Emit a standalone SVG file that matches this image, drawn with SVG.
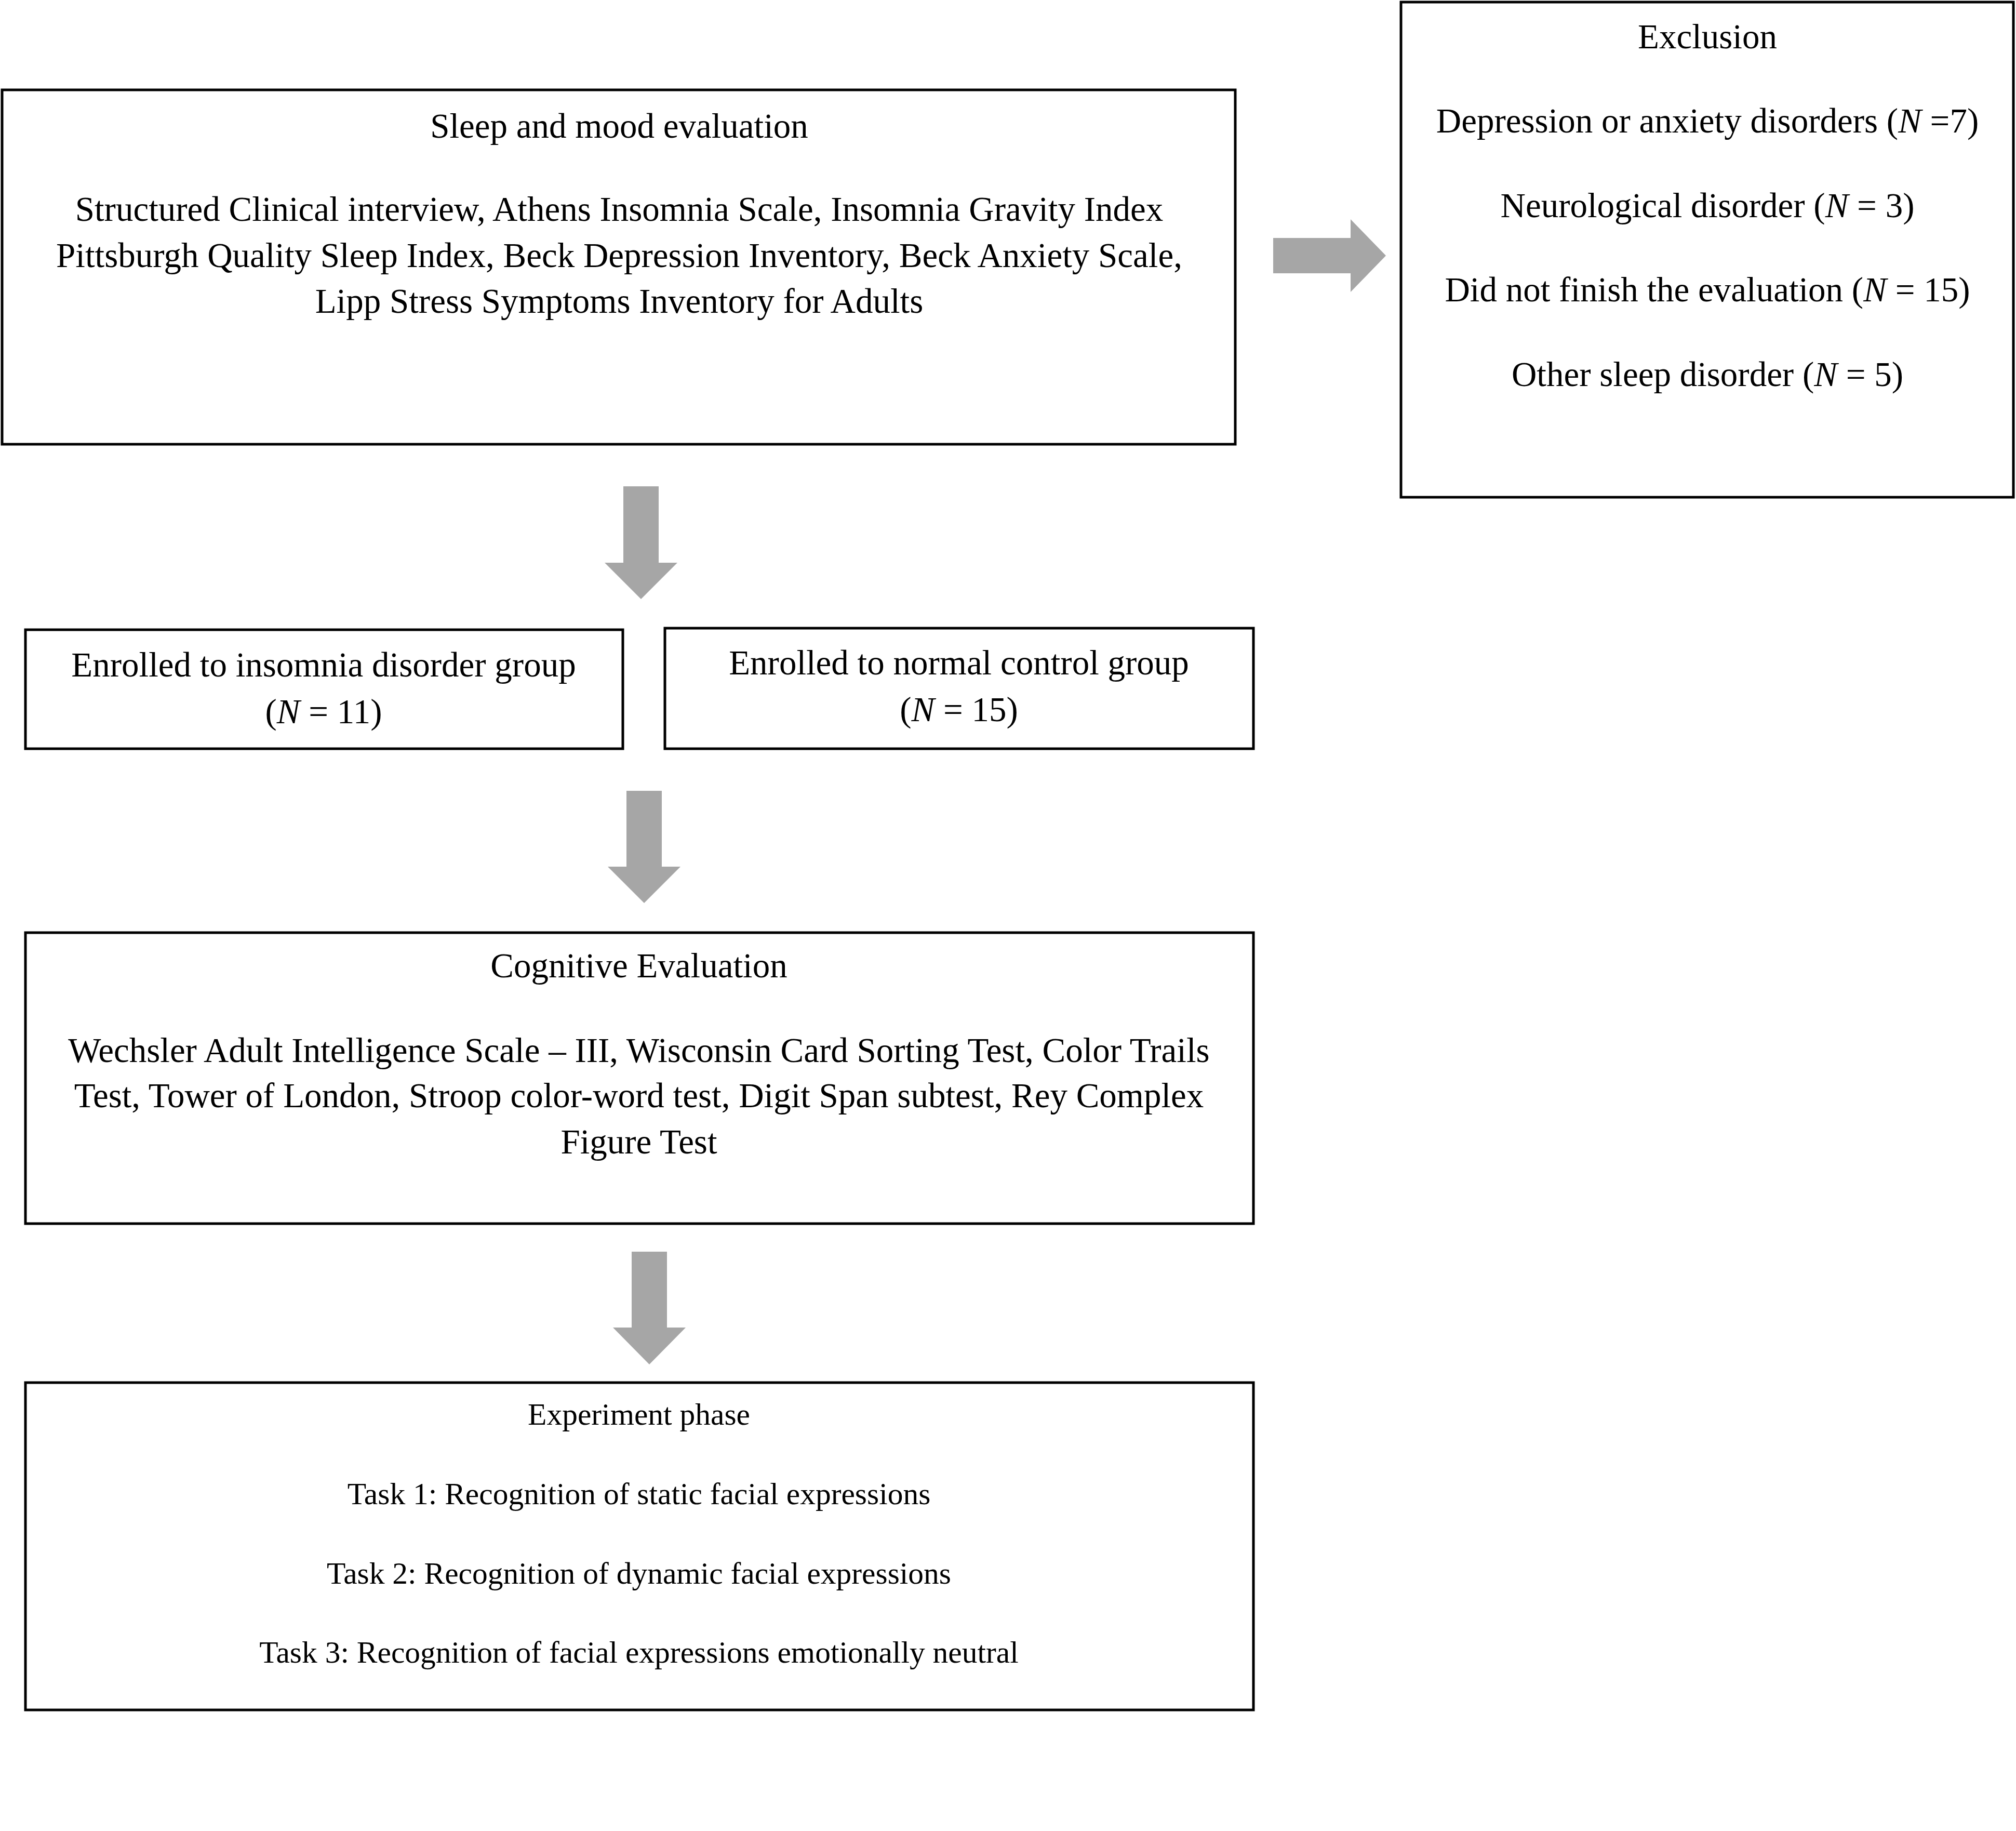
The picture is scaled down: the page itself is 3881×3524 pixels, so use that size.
<svg xmlns="http://www.w3.org/2000/svg" width="3881" height="3524" viewBox="0 0 3881 3524">
<style>
.box{fill:#fff;stroke:#000;stroke-width:5}
.t{font-family:"Liberation Serif","Times New Roman",serif;font-size:67px;fill:#000;text-anchor:middle}
.s{font-size:59.5px}
.arr{fill:#a6a6a6}
</style>
<rect width="3881" height="3524" fill="#fff"/>
<g id="connectors">
<polygon class="arr" points="2451,458 2600,458 2600,422 2668,492 2600,562 2600,526 2451,526"/>
<polygon class="arr" points="1200,936 1268,936 1268,1083 1304,1083 1234,1153 1164,1083 1200,1083"/>
<polygon class="arr" points="1206,1522 1274,1522 1274,1668 1310,1668 1240,1738 1170,1668 1206,1668"/>
<polygon class="arr" points="1216,2409 1284,2409 1284,2555 1320,2555 1250,2626 1180,2555 1216,2555"/>
</g>
<g id="sleep">
<rect class="box" x="4" y="173" width="2374" height="682"/>
<text class="t" x="1192" y="265">Sleep and mood evaluation</text>
<text class="t" x="1192" y="425">Structured Clinical interview, Athens Insomnia Scale, Insomnia Gravity Index</text>
<text class="t" x="1192" y="514">Pittsburgh Quality Sleep Index, Beck Depression Inventory, Beck Anxiety Scale,</text>
<text class="t" x="1192" y="602">Lipp Stress Symptoms Inventory for Adults</text>
</g>
<g id="exclusion">
<rect class="box" x="2697" y="4" width="1179" height="953"/>
<text class="t" x="3287" y="93">Exclusion</text>
<text class="t" x="3287" y="255">Depression or anxiety disorders (<tspan font-style="italic">N</tspan> =7)</text>
<text class="t" x="3287" y="418">Neurological disorder (<tspan font-style="italic">N</tspan> = 3)</text>
<text class="t" x="3287" y="580">Did not finish the evaluation (<tspan font-style="italic">N</tspan> = 15)</text>
<text class="t" x="3287" y="743">Other sleep disorder (<tspan font-style="italic">N</tspan> = 5)</text>
</g>
<g id="insomnia">
<rect class="box" x="49" y="1212" width="1150" height="229"/>
<text class="t" x="623" y="1302">Enrolled to insomnia disorder group</text>
<text class="t" x="623" y="1392">(<tspan font-style="italic">N</tspan> = 11)</text>
</g>
<g id="control">
<rect class="box" x="1280" y="1209" width="1133" height="232"/>
<text class="t" x="1846" y="1298">Enrolled to normal control group</text>
<text class="t" x="1846" y="1388">(<tspan font-style="italic">N</tspan> = 15)</text>
</g>
<g id="cognitive">
<rect class="box" x="49" y="1795" width="2364" height="560"/>
<text class="t" x="1230" y="1881">Cognitive Evaluation</text>
<text class="t" x="1230" y="2044">Wechsler Adult Intelligence Scale – III, Wisconsin Card Sorting Test, Color Trails</text>
<text class="t" x="1230" y="2131">Test, Tower of London, Stroop color-word test, Digit Span subtest, Rey Complex</text>
<text class="t" x="1230" y="2220">Figure Test</text>
</g>
<g id="experiment">
<rect class="box" x="49" y="2661" width="2364" height="630"/>
<text class="t s" x="1230" y="2742">Experiment phase</text>
<text class="t s" x="1230" y="2895">Task 1: Recognition of static facial expressions</text>
<text class="t s" x="1230" y="3048">Task 2: Recognition of dynamic facial expressions</text>
<text class="t s" x="1230" y="3200">Task 3: Recognition of facial expressions emotionally neutral</text>
</g>
</svg>
